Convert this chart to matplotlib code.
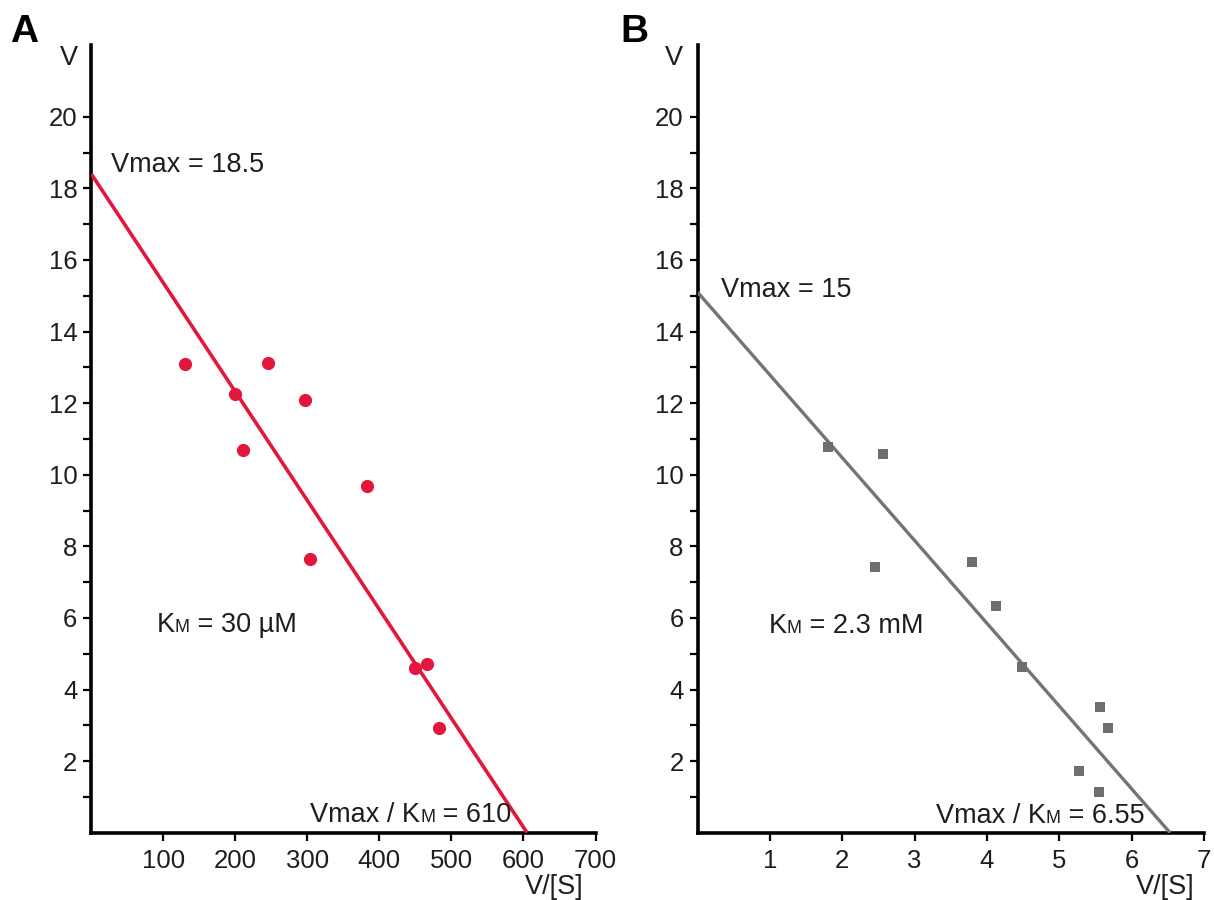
import matplotlib
matplotlib.use("Agg")
import matplotlib.pyplot as plt
from matplotlib.transforms import offset_copy
from matplotlib.ticker import FixedLocator

plt.rcParams["font.family"] = ["Liberation Sans", "DejaVu Sans"]

# Panel A: Eadie-Hofstee data (V/[S] vs V)
a_x = [130, 200, 211, 245, 296, 304, 383, 449, 466, 483]
a_v = [13.08, 12.25, 10.69, 13.11, 12.09, 7.65, 9.68, 4.59, 4.71, 2.93]
a_vmax_fit = 18.4
a_xint_fit = 605

# Panel B
b_x = [1.80, 2.46, 2.56, 3.79, 4.12, 4.49, 5.27, 5.55, 5.56, 5.67]
b_v = [10.78, 7.43, 10.58, 7.55, 6.34, 4.63, 1.71, 1.15, 3.52, 2.92]
b_vmax_fit = 15.1
b_xint_fit = 6.53

a_xticks = [100, 200, 300, 400, 500, 600, 700]
b_xticks = [1, 2, 3, 4, 5, 6, 7]
yticks = [2, 4, 6, 8, 10, 12, 14, 16, 18, 20]

RED = "#e3173d"
GRAY = "#6e6e6e"
TXT = "#1e1e1e"
FS_TICK = 18.5
FS = 19.5
FS_SMALL = 13

fig = plt.figure(figsize=(12.14, 9), dpi=100)
ax_a = fig.add_axes([91.3 / 1214, 67.3 / 900, 504.2 / 1214, 787.6 / 900])
ax_b = fig.add_axes([697.5 / 1214, 67.3 / 900, 506.5 / 1214, 787.6 / 900])


def style_axes(ax, xmax, xticks):
    ax.set_xlim(0, xmax)
    ax.set_ylim(0, 22)
    for side in ("top", "right"):
        ax.spines[side].set_visible(False)
    for side in ("left", "bottom"):
        ax.spines[side].set_linewidth(2.6)
        ax.spines[side].set_color("black")
    ax.xaxis.set_major_locator(FixedLocator(xticks))
    ax.yaxis.set_major_locator(FixedLocator(yticks))
    ax.yaxis.set_minor_locator(FixedLocator([1, 3, 5, 7, 9, 11, 13, 15, 17, 19]))
    ax.tick_params(axis="both", which="major", direction="out", length=6, width=1.6,
                   labelsize=FS_TICK, labelcolor=TXT)
    ax.tick_params(axis="y", which="minor", direction="out", length=5.5, width=1.6)
    ax.tick_params(axis="y", which="major", pad=4)
    ax.tick_params(axis="x", which="major", pad=6)
    ax.patch.set_alpha(0)


def put_parts(ax, x, y, parts):
    # text pieces on one baseline, with a smaller "M" for K_M
    renderer = fig.canvas.get_renderer()
    trans = ax.transData
    for s, size in parts:
        t = ax.text(x, y, s, transform=trans, fontsize=size, color=TXT,
                    ha="left", va="baseline", clip_on=False)
        w = t.get_window_extent(renderer).width
        trans = offset_copy(trans, fig=fig, x=w, y=0, units="dots")


style_axes(ax_a, 700, a_xticks)
style_axes(ax_b, 7, b_xticks)

ax_a.plot([0, a_xint_fit], [a_vmax_fit, 0], color=RED, lw=2.6, solid_capstyle="butt", zorder=3)
ax_a.plot(a_x, a_v, "o", color=RED, markersize=9.5, markeredgewidth=0, zorder=4, clip_on=False)

ax_b.plot([0, b_xint_fit], [b_vmax_fit, 0], color="#747474", lw=2.4, solid_capstyle="butt", zorder=3)
ax_b.plot(b_x, b_v, "s", color=GRAY, markersize=7.9, markeredgewidth=0, zorder=4, clip_on=False)

fig.canvas.draw()

# Panel A annotations
put_parts(ax_a, 28, 18.46, [("Vmax = 18.5", FS)])
put_parts(ax_a, 91, 5.61, [("K", FS), ("M", FS_SMALL), (" = 30 \u00b5M", FS)])
put_parts(ax_a, 303.7, 0.31, [("Vmax / K", FS), ("M", FS_SMALL), (" = 610", FS)])
ax_a.text(-19, 21.45, "V", fontsize=FS, color=TXT, ha="right", va="baseline", clip_on=False)
ax_a.text(683, -1.70, "V/[S]", fontsize=FS, color=TXT, ha="right", va="baseline", clip_on=False)

# Panel B annotations
put_parts(ax_b, 0.325, 14.97, [("Vmax = 15", FS)])
put_parts(ax_b, 0.98, 5.57, [("K", FS), ("M", FS_SMALL), (" = 2.3 mM", FS)])
put_parts(ax_b, 3.29, 0.28, [("Vmax / K", FS), ("M", FS_SMALL), (" = 6.55", FS)])
ax_b.text(-0.2, 21.45, "V", fontsize=FS, color=TXT, ha="right", va="baseline", clip_on=False)
ax_b.text(6.87, -1.70, "V/[S]", fontsize=FS, color=TXT, ha="right", va="baseline", clip_on=False)

fig.text(10 / 1214, 1 - 41.7 / 900, "A", fontsize=28, fontweight="bold", color="black",
         ha="left", va="baseline")
fig.text(620 / 1214, 1 - 41.7 / 900, "B", fontsize=28, fontweight="bold", color="black",
         ha="left", va="baseline")

fig.savefig("out.png", dpi=100, facecolor="white")
